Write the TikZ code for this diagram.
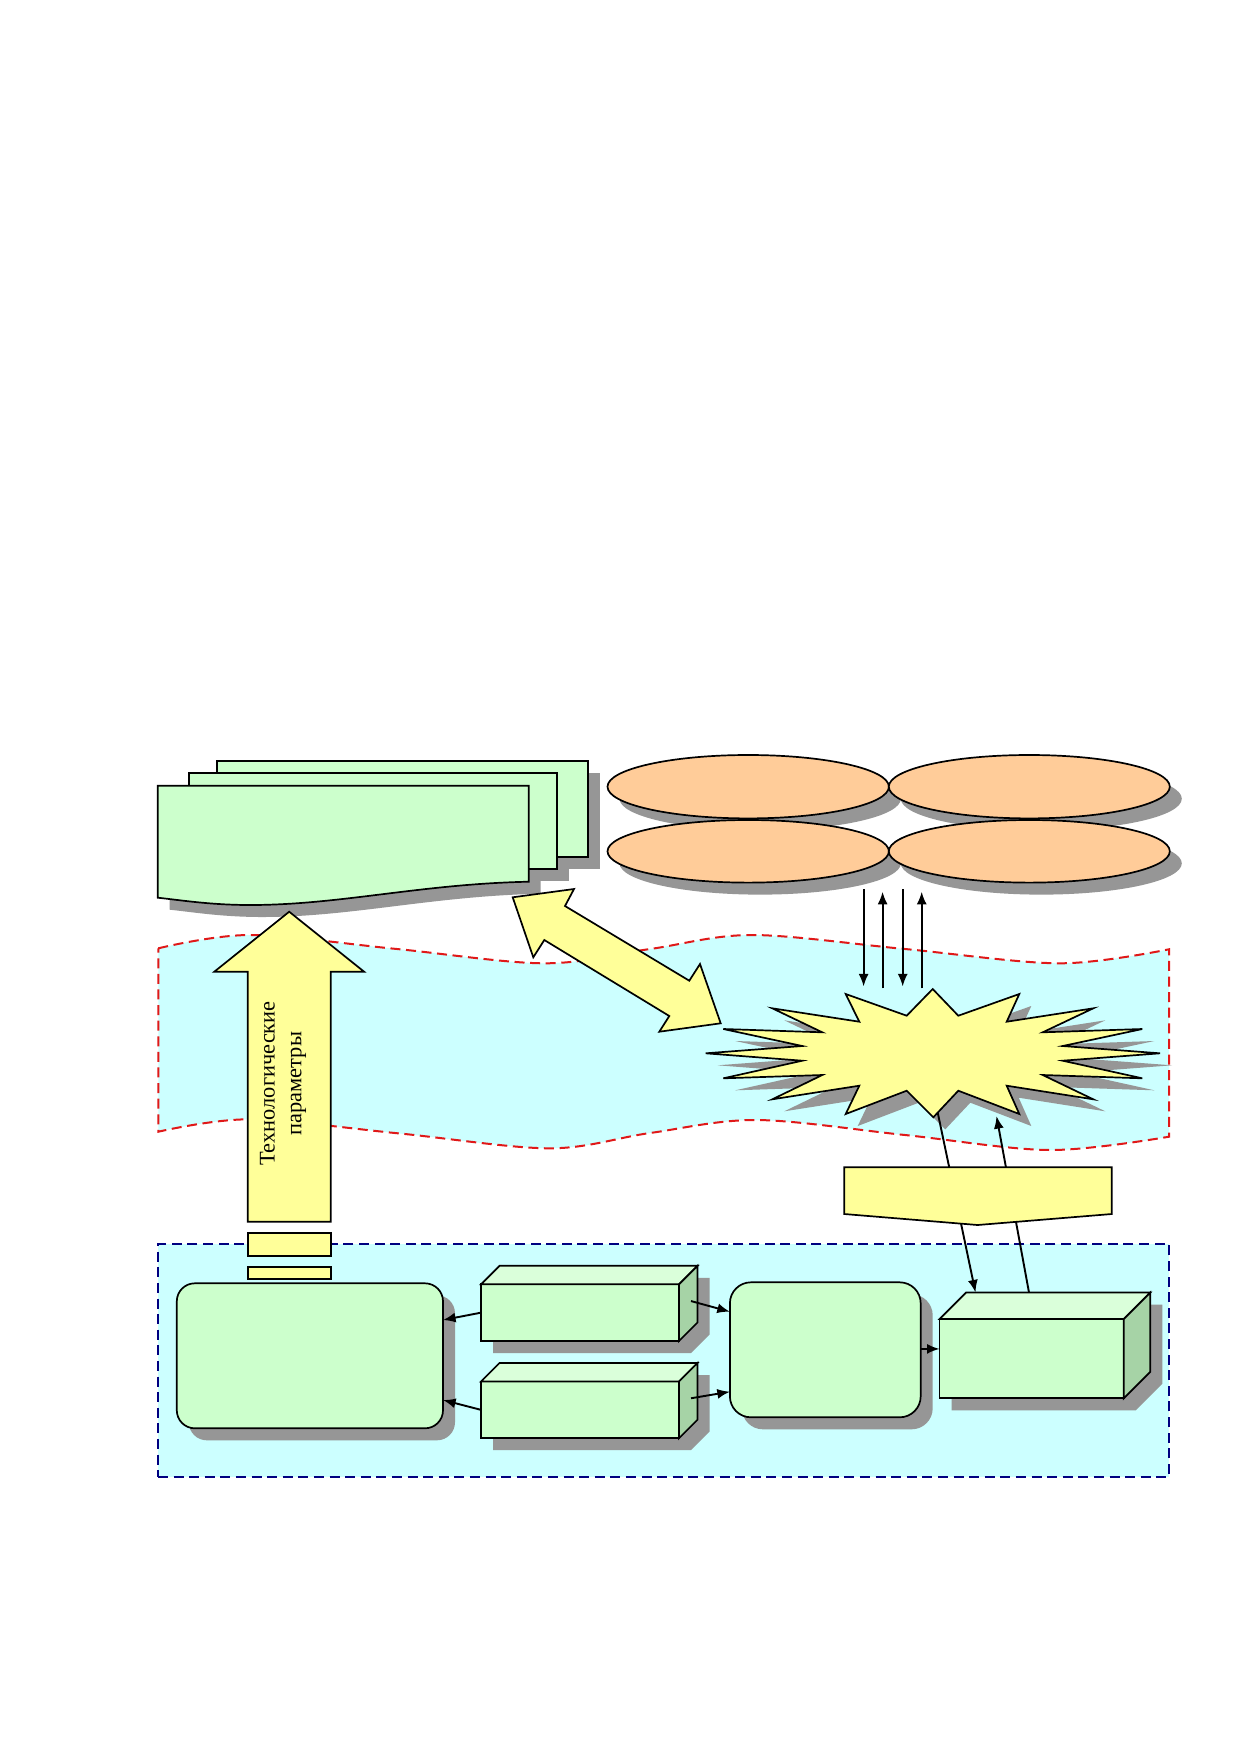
\documentclass[tikz,border=0pt]{standalone}
\usepackage{fontspec}
\setmainfont{Liberation Serif}
\usetikzlibrary{shapes.geometric,shadows,arrows.meta}
\definecolor{cyanband}{HTML}{CCFFFF}
\definecolor{sheetgreen}{HTML}{CCFFCC}
\definecolor{boxtop}{HTML}{DAFFDA}
\definecolor{boxside}{HTML}{A6D3A6}
\definecolor{ellorange}{HTML}{FFCC99}
\definecolor{paleyellow}{HTML}{FFFF99}
\definecolor{shadowcol}{HTML}{969696}
\definecolor{navydash}{HTML}{000080}
\definecolor{reddash}{HTML}{E01818}
\begin{document}
\begin{tikzpicture}[x=0.5pt,y=-0.5pt,
  edgeline/.style={draw=black, line width=0.85pt},
  band/.style={fill=cyanband, draw=reddash, line width=1pt, dash pattern=on 5pt off 2.8pt},
  ctrlarea/.style={rectangle, fill=cyanband, draw=navydash, line width=1pt, dash pattern=on 5pt off 2.8pt, inner sep=0pt, outer sep=0pt},
  sheet/.style={rectangle, edgeline, fill=sheetgreen, inner sep=0pt, outer sep=0pt},
  mysh/.style={drop shadow={fill=shadowcol, opacity=1, shadow xshift=6pt, shadow yshift=-6pt}},
  disk/.style={ellipse, edgeline, fill=ellorange, inner sep=0pt, outer sep=0pt, mysh},
  shadowfill/.style={fill=shadowcol, draw=none},
  yellowshape/.style={edgeline, fill=paleyellow},
  roundbox/.style={rectangle, rounded corners=9pt, edgeline, fill=sheetgreen, inner sep=0pt, outer sep=0pt, mysh},
  cubefront/.style={rectangle, edgeline, fill=sheetgreen, inner sep=0pt, outer sep=0pt},
  yellowbar/.style={rectangle, edgeline, fill=paleyellow, inner sep=0pt, outer sep=0pt},
  link/.style={draw=black, line width=0.95pt, -{Latex[length=6.3pt,width=5pt]}}
]
\useasboundingbox (0,0) rectangle (1239,1752);
\fill[white] (0,0) rectangle (1239,1752);

% wavy band
\path[band] plot[smooth, tension=0.55] coordinates {(158.3,948.3) (250,935) (397,949) (545,963.3) (650,949) (752,935) (905,949) (1060,963.3) (1169,949.3)}
  -- plot[smooth, tension=0.55] coordinates {(1169,1136.7) (1050,1150) (905,1135) (757,1120) (650,1133) (550,1148.3) (400,1133.5) (250,1119.3) (158.3,1131.7)} -- cycle;

% bottom dashed area
\node[ctrlarea, minimum width=505.55pt, minimum height=116.2pt] (ctrlpanel) at (663.45,1360.5) {};

% document stack: shadows
\fill[shadowfill] (229.3,773) rectangle (600.3,869.3);
\fill[shadowfill] (201,785.3) rectangle (568.7,881.3);
\begin{scope}[shift={(12,12)}]
\fill[shadowfill] (157.7,785.7) -- (528.7,785.7) -- (528.7,881.7) .. controls (420,884) and (340,905) .. (250,905) .. controls (210,905) and (180,900) .. (157.7,897.7) -- cycle;
\end{scope}
\node[sheet, minimum width=185.5pt, minimum height=48.15pt] (sheetback) at (402.8,809.15) {};
\node[sheet, minimum width=183.85pt, minimum height=48pt] (sheetmid) at (372.85,821.3) {};
\draw[edgeline, fill=sheetgreen] (157.7,785.7) -- (528.7,785.7) -- (528.7,881.7) .. controls (420,884) and (340,905) .. (250,905) .. controls (210,905) and (180,900) .. (157.7,897.7) -- cycle;
\coordinate (sheetfront) at (343,840);

% ellipses
\node[disk, minimum width=140.7pt, minimum height=31.7pt] (ellTL) at (748.2,786.7) {};
\node[disk, minimum width=140.5pt, minimum height=31.7pt] (ellTR) at (1029.3,786.7) {};
\node[disk, minimum width=140.7pt, minimum height=31.3pt] (ellBL) at (748.2,851.3) {};
\node[disk, minimum width=140.5pt, minimum height=31.3pt] (ellBR) at (1029.3,851.3) {};

% vertical arrows
\coordinate (vt1) at (863.6,889.3); \coordinate (vb1) at (863.6,986.5);
\coordinate (vt2) at (882.6,891.7); \coordinate (vb2) at (882.6,988.3);
\coordinate (vt3) at (902.7,889.3); \coordinate (vb3) at (902.7,986.5);
\coordinate (vt4) at (921.7,891.7); \coordinate (vb4) at (921.7,988.3);
\draw[link] (vt1) -- (vb1);
\draw[link] (vb2) -- (vt2);
\draw[link] (vt3) -- (vb3);
\draw[link] (vb4) -- (vt4);

% technological parameters arrow
\draw[yellowshape] (247.7,1221.7) -- (247.7,971.7) -- (214.3,971.7) -- (289.2,911.7) -- (364.1,971.7) -- (330.7,971.7) -- (330.7,1221.7) -- cycle;
\node[rotate=90, align=center, font=\fontsize{11.2pt}{13.3pt}\selectfont, inner sep=0pt] (techtext) at (283,1083.5) {Технологические\\параметры};
\node[yellowbar, minimum width=41.5pt, minimum height=11.65pt] (bar1) at (289.2,1244.35) {};
\node[yellowbar, minimum width=41.5pt, minimum height=5.85pt] (bar2) at (289.2,1273.15) {};

% double arrow
\draw[yellowshape] (512.7,897.3) -- (574,889) -- (565,906) -- (689.3,980.7) -- (700,964) -- (720.7,1023.3) -- (659.3,1031.7) -- (669.3,1016) -- (544.3,940) -- (533.3,957.3) -- cycle;

% starburst
\begin{scope}[shift={(12,12)}]
\fill[shadowfill] (932.7,989) -- (958.3,1015.7) -- (1019.3,994) -- (1006.7,1021.7) -- (1093.3,1008.3) -- (1042.7,1032.3) -- (1142.3,1029) -- (1062.7,1046) -- (1160,1053.3) -- (1062.7,1060.7) -- (1142.3,1078.3) -- (1042.7,1075) -- (1093.3,1099.3) -- (1006.7,1085.7) -- (1019.3,1114) -- (958.3,1090.7) -- (933.3,1117.3) -- (906.7,1090.7) -- (845.7,1114) -- (859.3,1085.7) -- (772.3,1099.3) -- (822.3,1075) -- (723.3,1078.3) -- (802.3,1060.7) -- (705.7,1053.3) -- (802.3,1046) -- (723.3,1029) -- (822.3,1032.3) -- (772.3,1008.3) -- (859.3,1021.7) -- (845.7,994) -- (906.7,1015.7) -- cycle;
\end{scope}
\draw[yellowshape] (932.7,989) -- (958.3,1015.7) -- (1019.3,994) -- (1006.7,1021.7) -- (1093.3,1008.3) -- (1042.7,1032.3) -- (1142.3,1029) -- (1062.7,1046) -- (1160,1053.3) -- (1062.7,1060.7) -- (1142.3,1078.3) -- (1042.7,1075) -- (1093.3,1099.3) -- (1006.7,1085.7) -- (1019.3,1114) -- (958.3,1090.7) -- (933.3,1117.3) -- (906.7,1090.7) -- (845.7,1114) -- (859.3,1085.7) -- (772.3,1099.3) -- (822.3,1075) -- (723.3,1078.3) -- (802.3,1060.7) -- (705.7,1053.3) -- (802.3,1046) -- (723.3,1029) -- (822.3,1032.3) -- (772.3,1008.3) -- (859.3,1021.7) -- (845.7,994) -- (906.7,1015.7) -- cycle;
\coordinate (burstout) at (937.8,1113);
\coordinate (burstin) at (996.5,1116);

% left rounded box
\node[roundbox, minimum width=133.1pt, minimum height=72.5pt] (boxL) at (309.9,1355.8) {};

% 3D box A
\fill[shadowfill] (493,1353) -- (493,1296.3) -- (511.5,1277.8) -- (709.5,1277.8) -- (709.5,1334.5) -- (691,1353) -- cycle;
\node[cubefront, minimum width=99pt, minimum height=28.35pt] (boxA) at (580,1312.65) {};
\draw[edgeline, fill=boxtop] (boxA.north west) -- ++(18.5,-18.5) -- ++(198,0) -- (boxA.north east) -- cycle;
\draw[edgeline, fill=boxside] (boxA.north east) -- ++(18.5,-18.5) -- ++(0,56.7) -- (boxA.south east) -- cycle;

% 3D box B
\fill[shadowfill] (493,1450.2) -- (493,1393.5) -- (511.5,1375) -- (709.5,1375) -- (709.5,1431.7) -- (691,1450.2) -- cycle;
\node[cubefront, minimum width=99pt, minimum height=28.35pt] (boxB) at (580,1409.85) {};
\draw[edgeline, fill=boxtop] (boxB.north west) -- ++(18.5,-18.5) -- ++(198,0) -- (boxB.north east) -- cycle;
\draw[edgeline, fill=boxside] (boxB.north east) -- ++(18.5,-18.5) -- ++(0,56.7) -- (boxB.south east) -- cycle;

% middle rounded box
\node[roundbox, rounded corners=10.5pt, minimum width=95.4pt, minimum height=67.5pt] (boxM) at (825.3,1349.8) {};

% 3D box C
\fill[shadowfill] (951.6,1410.3) -- (951.6,1331) -- (978.1,1304.5) -- (1162.3,1304.5) -- (1162.3,1383.8) -- (1135.8,1410.3) -- cycle;
\node[cubefront, minimum width=92.1pt, minimum height=39.65pt] (boxC) at (1031.7,1358.65) {};
\draw[edgeline, fill=boxtop] (boxC.north west) -- ++(26.5,-26.5) -- ++(184.2,0) -- (boxC.north east) -- cycle;
\draw[edgeline, fill=boxside] (boxC.north east) -- ++(26.5,-26.5) -- ++(0,79.3) -- (boxC.south east) -- cycle;
\coordinate (Ctopin) at (975.5,1292.5);
\coordinate (Ctopout) at (1029,1292.5);

% connectors in the bottom area
\draw[link] (boxA.west) -- ([yshift=17.9pt]boxL.east);
\draw[link] (boxB.west) -- ([yshift=-22.1pt]boxL.east);
\draw[link] ([xshift=6pt,yshift=5.8pt]boxA.east) -- ([yshift=19.05pt]boxM.west);
\draw[link] ([xshift=6pt,yshift=5.8pt]boxB.east) -- ([yshift=-20.95pt]boxM.west);
\draw[link] ([yshift=0.45pt]boxM.east) -- ([yshift=0.45pt]boxM.east -| boxC.west);

% lines between starburst and box C
\draw[link] (burstout) -- (Ctopin);
\draw[link] (Ctopout) -- (burstin);

% pentagon label box
\draw[yellowshape] (844.2,1167.3) -- (1111.8,1167.3) -- (1111.8,1214) -- (977.6,1225) -- (844.2,1214) -- cycle;
\coordinate (pentagon) at (977.6,1195);
\end{tikzpicture}
\end{document}
